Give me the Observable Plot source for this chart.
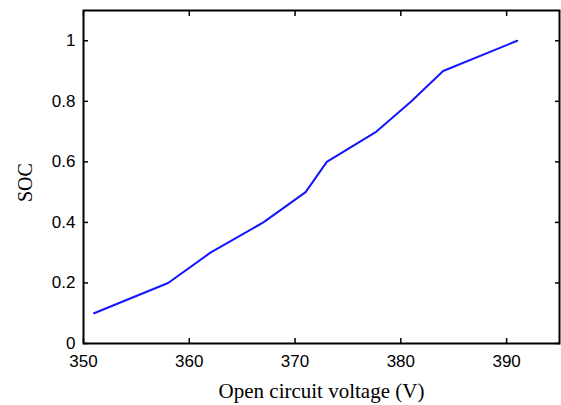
<!DOCTYPE html>
<html>
<head>
<meta charset="utf-8">
<script src="https://cdn.jsdelivr.net/npm/d3@7"></script>
<script src="https://cdn.jsdelivr.net/npm/@observablehq/plot@0.6"></script>
<style>
  html, body { margin: 0; padding: 0; background: #fff; }
  #chart svg { display: block; }
</style>
</head>
<body>
<div id="chart"></div>
<script>
// Open circuit voltage (V) versus state of charge
const voltage = [351, 358, 362, 367, 371, 373, 377.7, 381, 384, 391];
const soc = [0.1, 0.2, 0.3, 0.4, 0.5, 0.6, 0.7, 0.8, 0.9, 1.0];
const xTicks = [350, 360, 370, 380, 390];
const yTicks = [0, 0.2, 0.4, 0.6, 0.8, 1];

const data = voltage.map((v, i) => ({voltage: v, soc: soc[i]}));

const tickFont = "Liberation Sans, Arial, sans-serif";
const labelFont = "Liberation Serif, Times New Roman, serif";

const chart = Plot.plot({
  width: 561,
  height: 405,
  marginLeft: 83,
  marginRight: 2,
  marginTop: 10,
  marginBottom: 62,
  style: {background: "#fff", color: "#000"},
  x: {domain: [350, 395]},
  y: {domain: [0, 1.1]},
  marks: [
    Plot.line(data, {x: "voltage", y: "soc", stroke: "#1414ff", strokeWidth: 2}),
    // inward ticks on all four sides, numbers on bottom and left only
    Plot.axisX(xTicks, {anchor: "bottom", tickSize: -5, tickPadding: 16, tickFormat: d => String(d),
      fontSize: 17, fontFamily: tickFont, label: null, strokeWidth: 1.5}),
    Plot.axisX(xTicks, {anchor: "top", tickSize: -5, text: null, label: null, strokeWidth: 1.5}),
    Plot.axisY(yTicks, {anchor: "left", tickSize: -5, tickPadding: 13, tickFormat: d => String(d),
      fontSize: 17, fontFamily: tickFont, label: null, strokeWidth: 1.5}),
    Plot.axisY(yTicks, {anchor: "right", tickSize: -5, text: null, label: null, strokeWidth: 1.5}),
    // axis titles in serif type
    Plot.text(["Open circuit voltage (V)"], {frameAnchor: "bottom", dy: 54, fontFamily: labelFont,
      fontSize: 21, fill: "#000"}),
    Plot.text(["SOC"], {frameAnchor: "left", dx: -58, dy: 25, rotate: -90, fontFamily: labelFont,
      fontSize: 20, fill: "#000"}),
    Plot.frame({stroke: "#000", strokeWidth: 2})
  ]
});

document.getElementById("chart").appendChild(chart);
</script>
</body>
</html>
